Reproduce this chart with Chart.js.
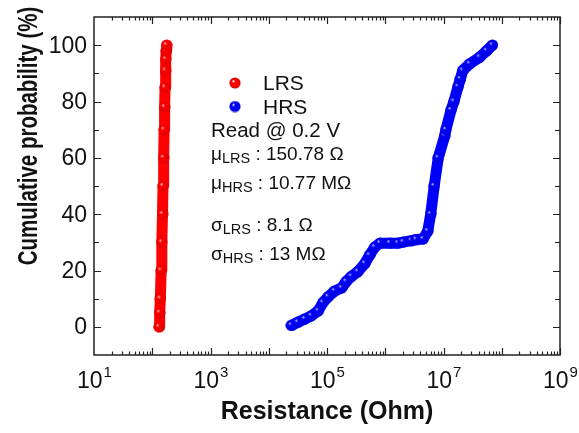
<!DOCTYPE html>
<html>
<head>
<meta charset="utf-8">
<script src="https://cdn.jsdelivr.net/npm/chart.js@4.4.1/dist/chart.umd.min.js"></script>
<style>
  html, body { margin: 0; padding: 0; background: #fff; }
  #wrap { width: 579px; height: 433px; }
</style>
</head>
<body>
<div id="wrap"><canvas id="cdf"></canvas></div>
<script>
// LRS: resistance (Ohm) vs cumulative probability (%)
const lrsResistance = [131, 134, 138, 142, 146, 150, 153, 157, 160, 163, 166, 169, 171, 174, 177];
const lrsProbability = [0, 5, 10, 20, 30, 40, 50, 60, 70, 78, 85, 91, 95, 98, 100];

// HRS: resistance (Ohm) vs cumulative probability (%)
const hrsResistance = [
    24500, 31600, 41700, 53700, 70800, 85100, 105000, 135000, 178000, 214000,
    263000, 339000, 447000, 537000, 661000, 813000, 1.2e6, 1.66e6, 2.04e6, 2.82e6,
    3.39e6, 4.47e6, 5.37e6, 6.03e6, 6.92e6, 8.13e6, 1.05e7, 1.1e7, 1.35e7, 1.51e7,
    1.78e7, 1.95e7, 2.14e7, 2.82e7, 4.17e7, 5.5e7, 6.92e7
];
const hrsProbability = [
    0.5, 1.6, 2.8, 3.9, 5.7, 8.6, 10.7, 12.7, 13.8, 16.1,
    17.9, 19.6, 22.5, 25.4, 28.3, 29.7, 29.7, 29.7, 30.1, 30.6,
    31, 31.2, 34, 40, 50, 60, 67.8, 70, 77, 80,
    85.3, 88, 91, 93.4, 95.7, 98, 100
];

// axis ticks
const xLabelExponents = [1, 3, 5, 7, 9];
const yTickLabels = [0, 20, 40, 60, 80, 100];

// text block
const readCondition = "Read @ 0.2 V";
const statSymbols = ["μ", "μ", "σ", "σ"];
const statStates = ["LRS", "HRS", "LRS", "HRS"];
const statValues = ["150.78 Ω", "10.77 MΩ", "8.1 Ω", "13 MΩ"];

const FONT = "'Liberation Sans', Arial, sans-serif";

// shaded ball used as the marker
const makeBall = (color, dark, size) => {
    const c = document.createElement("canvas");
    c.width = size;
    c.height = size;
    const r = size / 2;
    const g = c.getContext("2d");
    const grad = g.createRadialGradient(r - 1.8, r - 2, 0.2, r, r, r);
    grad.addColorStop(0, "rgba(255,255,255,0.75)");
    grad.addColorStop(0.25, color);
    grad.addColorStop(1, dark);
    g.fillStyle = grad;
    g.beginPath();
    g.arc(r, r, r - 0.4, 0, Math.PI * 2);
    g.fill();
    return c;
};
const redBall = makeBall("#ff0000", "#e00000", 12);
const blueBall = makeBall("#0000ff", "#0000dc", 12);

const toPoints = (xs, ys) => xs.map((x, i) => ({ x: x, y: ys[i] }));

// frame, inward ticks, labels, titles and the text box
const framePlugin = {
    id: "frame",
    afterDraw(chart) {
        const ctx = chart.ctx;
        const { left, right, top, bottom } = chart.chartArea;
        const xs = chart.scales.x;
        const ys = chart.scales.y;
        ctx.save();
        ctx.strokeStyle = "#222";
        ctx.fillStyle = "#111";
        ctx.lineWidth = 1.5;
        ctx.strokeRect(left, top, right - left, bottom - top);

        ctx.lineWidth = 1.2;
        ctx.beginPath();
        for (let d = 1; d <= 9; d++) {
            for (let m = 1; m <= 9; m++) {
                const v = m * Math.pow(10, d);
                if (v > 1e9 || (d === 1 && m === 1)) continue;
                const px = Math.round(xs.getPixelForValue(v)) + 0.5;
                const len = m === 1 ? 7 : 3.5;
                ctx.moveTo(px, bottom);
                ctx.lineTo(px, bottom - len);
                ctx.moveTo(px, top);
                ctx.lineTo(px, top + len);
            }
        }
        for (let v = 0; v <= 100; v += 10) {
            const py = Math.round(ys.getPixelForValue(v)) + 0.5;
            const len = v % 20 === 0 ? 7 : 5;
            ctx.moveTo(left, py);
            ctx.lineTo(left + len, py);
            ctx.moveTo(right, py);
            ctx.lineTo(right - len, py);
        }
        ctx.stroke();

        // y tick labels
        ctx.font = "23px " + FONT;
        ctx.textAlign = "right";
        ctx.textBaseline = "middle";
        yTickLabels.forEach((v) => {
            ctx.fillText(String(v), left - 7, ys.getPixelForValue(v) + 1);
        });

        // x tick labels as 10^n
        ctx.textBaseline = "alphabetic";
        ctx.textAlign = "left";
        xLabelExponents.forEach((e) => {
            const px = xs.getPixelForValue(Math.pow(10, e));
            ctx.font = "23px " + FONT;
            const wBase = ctx.measureText("10").width;
            ctx.font = "15px " + FONT;
            const wExp = ctx.measureText(String(e)).width;
            const x0 = px - (wBase + wExp) / 2;
            ctx.font = "23px " + FONT;
            ctx.fillText("10", x0, 388);
            ctx.font = "15px " + FONT;
            ctx.fillText(String(e), x0 + wBase + 1, 377);
        });

        // axis titles
        ctx.font = "bold 25px " + FONT;
        ctx.textAlign = "center";
        ctx.fillText("Resistance (Ohm)", (left + right) / 2, 419);
        ctx.save();
        ctx.translate(37, 136);
        ctx.rotate(-Math.PI / 2);
        ctx.scale(1, 1.35);
        ctx.font = "bold 20.5px " + FONT;
        ctx.fillText("Cumulative probability (%)", 0, 0);
        ctx.restore();

        // legend
        ctx.textAlign = "left";
        chart.data.datasets.forEach((ds, i) => {
            const cy = 83 + i * 23.5;
            ctx.drawImage(ds.pointStyle, 229, cy - 6);
            ctx.font = "21px " + FONT;
            ctx.fillText(ds.label, 263, cy + 7);
        });

        ctx.font = "20.5px " + FONT;
        ctx.fillText(readCondition, 211, 137);

        const baselines = [160, 189, 231, 260];
        statSymbols.forEach((s, i) => {
            const y = baselines[i];
            let x = 211;
            ctx.font = "19px " + FONT;
            ctx.fillText(s, x, y);
            x += ctx.measureText(s).width;
            ctx.font = "14.5px " + FONT;
            ctx.fillText(statStates[i], x, y + 3);
            x += ctx.measureText(statStates[i]).width;
            ctx.font = "19px " + FONT;
            ctx.fillText(" : " + statValues[i], x, y);
        });
        ctx.restore();
    },
};

const makeDataset = (label, xs, ys, color, ball) => ({
    label: label,
    data: toPoints(xs, ys),
    showLine: true,
    borderColor: color,
    backgroundColor: color,
    borderWidth: 11,
    borderCapStyle: "round",
    borderJoinStyle: "round",
    tension: 0,
    pointStyle: ball,
    pointRadius: 6,
    pointHoverRadius: 6,
});

const chart = new Chart(document.getElementById("cdf"), {
    type: "scatter",
    data: {
        datasets: [
            makeDataset("LRS", lrsResistance, lrsProbability, "#ff0000", redBall),
            makeDataset("HRS", hrsResistance, hrsProbability, "#0000ff", blueBall),
        ],
    },
    options: {
        responsive: true,
        maintainAspectRatio: false,
        animation: false,
        layout: {
            padding: { left: 94, top: 13, right: 19, bottom: 78 },
        },
        plugins: {
            legend: { display: false },
            tooltip: { enabled: false },
        },
        scales: {
            x: {
                type: "logarithmic",
                min: 10,
                max: 1e9,
                display: false,
            },
            y: {
                type: "linear",
                min: -10,
                max: 110,
                display: false,
            },
        },
    },
    plugins: [framePlugin],
});
</script>
</body>
</html>
